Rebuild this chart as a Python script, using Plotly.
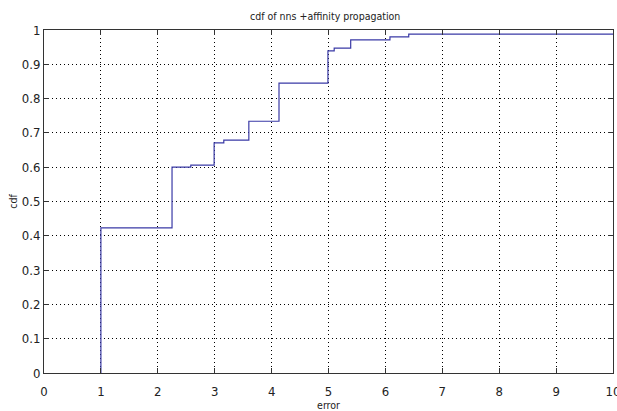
import plotly.graph_objects as go

# step points of the empirical CDF (error value where cdf jumps, cdf level after jump)
error_vals = [1.0, 1.0, 2.25, 2.58, 2.99, 3.16, 3.60, 4.13, 4.99, 5.10, 5.39, 6.08, 6.41, 10.0]
cdf_vals = [0.0, 0.423, 0.600, 0.606, 0.671, 0.679, 0.734, 0.845, 0.939, 0.947, 0.971, 0.980, 0.988, 0.988]
x_ticks = list(range(0, 11))
y_ticks = [round(i * 0.1, 1) for i in range(0, 11)]
y_tick_text = ["0", "0.1", "0.2", "0.3", "0.4", "0.5", "0.6", "0.7", "0.8", "0.9", "1"]

FONT = "DejaVu Sans Condensed, Liberation Sans Narrow, Liberation Sans, sans-serif"

fig = go.Figure()
fig.add_trace(go.Scatter(
    x=error_vals, y=cdf_vals, mode="lines", line_shape="hv",
    line=dict(color="#3a3aa6", width=1.2), showlegend=False,
))

axis_common = dict(
    showline=True, linecolor="#333333", linewidth=1, mirror="ticks",
    ticks="inside", ticklen=5, tickcolor="#333333",
    showgrid=True, gridcolor="#000000", griddash="1px,3px", gridwidth=1,
    zeroline=False, automargin=False, ticklabeloverflow="allow",
    tickfont=dict(family=FONT, size=13, color="#222222"),
)

fig.update_layout(
    width=617, height=411,
    paper_bgcolor="white", plot_bgcolor="white",
    margin=dict(l=44, r=4, t=30, b=38, autoexpand=False),
    title=dict(text="cdf of nns +affinity propagation", x=0.527, xanchor="center",
               y=0.961, yanchor="middle",
               font=dict(family=FONT, size=10.5, color="#222222")),
    xaxis=dict(range=[0, 10], tickvals=x_ticks, ticklabelstandoff=6,
               title=dict(text="error", font=dict(family=FONT, size=10.5, color="#222222"), standoff=0),
               **axis_common),
    yaxis=dict(range=[0, 1], tickvals=y_ticks, ticktext=y_tick_text,
               title=dict(text="cdf", font=dict(family=FONT, size=10.5, color="#222222"), standoff=2),
               **axis_common),
)

fig.write_html("out.html", config={"displayModeBar": False},
               post_script="document.body.style.margin='0';")
